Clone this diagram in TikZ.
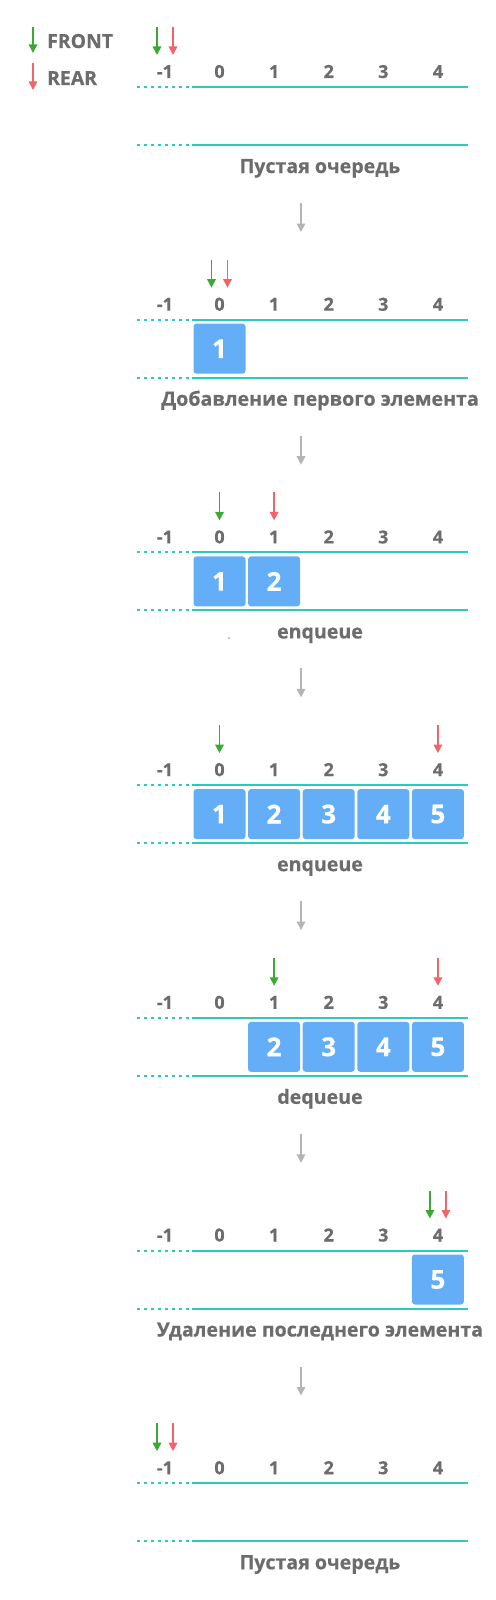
\documentclass[tikz,border=0pt]{standalone}
\usepackage{fontspec}
\setmainfont{Open Sans}[BoldFeatures={FakeBold=0.4}]
\usetikzlibrary{arrows.meta}
\definecolor{txtgray}{HTML}{6C6C6C}
\definecolor{qline}{HTML}{2CCBB9}
\definecolor{cellblue}{HTML}{64AEF8}
\definecolor{fgreen}{HTML}{3BAA35}
\definecolor{rred}{HTML}{F0646A}
\definecolor{stepgray}{HTML}{B5B5B5}
\tikzset{
  ptr/.style={line width=1.6pt,-{Triangle[width=8.5pt,length=8.5pt]}},
  idx/.style={font=\bfseries\fontsize{18}{18}\selectfont,text=txtgray,inner sep=0pt},
  captxt/.style={font=\bfseries\fontsize{19.6}{19.6}\selectfont,text=txtgray,inner sep=0pt},
  legendtxt/.style={font=\bfseries\fontsize{19.4}{19.4}\selectfont,text=txtgray,inner sep=0pt},
  cell/.style={fill=cellblue,rounded corners=3pt,minimum width=52pt,minimum height=50pt,inner sep=0pt,
    font=\bfseries\fontsize{26}{26}\selectfont,text=white},
  rail/.style={draw=qline,line width=2pt},
  raildots/.style={draw=qline,line width=2pt,dash pattern=on 3pt off 4pt},
}
\newcommand\qpanel[3]{% #1 = top line y, #2 = name prefix, #3 = caption
  \coordinate (#2da) at (137,#1);
  \coordinate (#2sa) at (192,#1);
  \coordinate (#2ea) at (468,#1);
  \coordinate (#2db) at (137,#1+58);
  \coordinate (#2sb) at (192,#1+58);
  \coordinate (#2eb) at (468,#1+58);
  \draw[raildots] (#2da) -- (#2sa);
  \draw[rail] (#2sa) -- (#2ea);
  \draw[raildots] (#2db) -- (#2sb);
  \draw[rail] (#2sb) -- (#2eb);
  \foreach \i [count=\c] in {-1,0,1,2,3,4}
    \node[idx,anchor=base] (#2i\c) at (219.5+54.6*\i,#1-9) {\i};
  \node[captxt,anchor=base] (#2cap) at (320,#1+86) {#3};
}
\newcommand\qcell[4]{% #1 = top line y, #2 = index, #3 = name, #4 = value
  \node[cell] (#3) at (219.5+54.6*#2,#1+29) {#4};
}
\newcommand\qptr[4]{% #1 = top line y, #2 = x, #3 = colour, #4 = name
  \coordinate (#4s) at (#2,#1-60);
  \coordinate (#4e) at (#2,#1-32);
  \draw[ptr,#3] (#4s) -- (#4e);
}
\newcommand\qstep[2]{% #1 = top line y of previous panel, #2 = name
  \coordinate (#2s) at (301,#1+116);
  \coordinate (#2e) at (301,#1+145);
  \draw[ptr,stepgray] (#2s) -- (#2e);
}
\begin{document}
\begin{tikzpicture}[x=1pt,y=-1pt]
\useasboundingbox (0,0) rectangle (495,1600);
\fill[white] (0,0) rectangle (495,1600);

% legend
\coordinate (lfs) at (33,27);
\coordinate (lfe) at (33,53);
\draw[ptr,fgreen] (lfs) -- (lfe);
\node[legendtxt,anchor=base west] (lfront) at (47,48) {FRONT};
\coordinate (lrs) at (33,63);
\coordinate (lre) at (33,90);
\draw[ptr,rred] (lrs) -- (lre);
\node[legendtxt,anchor=base west] (lrear) at (47,85) {REAR};

% panel 1
\qpanel{87}{pa}{Пустая очередь}
\qptr{87}{157}{fgreen}{paf}
\qptr{87}{173}{rred}{par}
\qstep{87}{sa}

% panel 2
\qpanel{319.7}{pb}{Добавление первого элемента}
\qcell{319.7}{0}{pbc1}{1}
\qptr{319.7}{211.5}{fgreen}{pbf}
\qptr{319.7}{227.5}{rred}{pbr}
\qstep{319.7}{sb}

% panel 3
\qpanel{552.4}{pc}{enqueue}
\qcell{552.4}{0}{pcc1}{1}
\qcell{552.4}{1}{pcc2}{2}
\qptr{552.4}{219.5}{fgreen}{pcf}
\qptr{552.4}{274.1}{rred}{pcr}
\fill[black] (229,638) circle (0.7pt);
\qstep{552.4}{sc}

% panel 4
\qpanel{785.1}{pd}{enqueue}
\qcell{785.1}{0}{pdc1}{1}
\qcell{785.1}{1}{pdc2}{2}
\qcell{785.1}{2}{pdc3}{3}
\qcell{785.1}{3}{pdc4}{4}
\qcell{785.1}{4}{pdc5}{5}
\qptr{785.1}{219.5}{fgreen}{pdf}
\qptr{785.1}{437.9}{rred}{pdr}
\qstep{785.1}{sd}

% panel 5
\qpanel{1017.8}{pe}{dequeue}
\qcell{1017.8}{1}{pec2}{2}
\qcell{1017.8}{2}{pec3}{3}
\qcell{1017.8}{3}{pec4}{4}
\qcell{1017.8}{4}{pec5}{5}
\qptr{1017.8}{274.1}{fgreen}{pef}
\qptr{1017.8}{437.9}{rred}{per}
\qstep{1017.8}{se}

% panel 6
\qpanel{1250.5}{pf}{Удаление последнего элемента}
\qcell{1250.5}{4}{pfc5}{5}
\qptr{1250.5}{429.9}{fgreen}{pff}
\qptr{1250.5}{445.9}{rred}{pfr}
\qstep{1250.5}{sf}

% panel 7
\qpanel{1483.2}{pg}{Пустая очередь}
\qptr{1483.2}{157}{fgreen}{pgf}
\qptr{1483.2}{173}{rred}{pgr}
\end{tikzpicture}
\end{document}
